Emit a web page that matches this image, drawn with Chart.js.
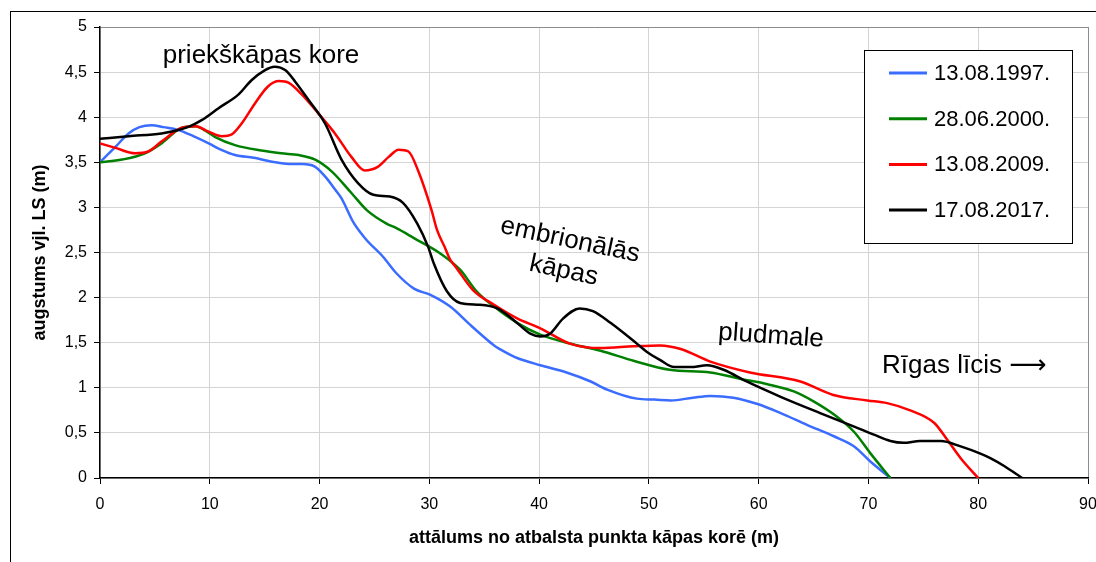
<!DOCTYPE html>
<html lang="lv">

<head>
  <meta charset="UTF-8">
  <title>Kāpu profils</title>
  <style>
    body {
      margin: 0;
      background-color: #fff;
    }

    canvas {
      display: block;
    }
  </style>
  <script src="https://cdn.jsdelivr.net/npm/chart.js"></script>
</head>

<body>
  <canvas id="profileChart" width="1096" height="562"></canvas>

  <script>
    // distance from the reference point (m) and height (m) for each survey
    const labels = ['13.08.1997.', '28.06.2000.', '13.08.2009.', '17.08.2017.'];
    const colors = ['#3a6cff', '#008000', '#ff0000', '#000000'];

    const dist1997 = [0, 1.4, 2.6, 3.6, 4.7, 5.8, 7.1, 8.5, 9.9, 11.0, 12.3, 14.0, 16.0, 17.5, 18.4, 19.6, 20.6, 21.4, 22.0, 23.1, 24.2, 25.8, 27.0, 28.6, 30.1, 31.9, 33.7, 35.0, 35.9, 37.0, 38.0, 40.1, 42.5, 44.7, 46.2, 48.9, 50.5, 52.0, 54.0, 55.6, 57.7, 59.9, 62.0, 64.4, 66.9, 68.7, 70.2, 72.0];
    const h1997 = [3.50, 3.67, 3.82, 3.89, 3.91, 3.89, 3.86, 3.79, 3.71, 3.64, 3.58, 3.55, 3.50, 3.48, 3.48, 3.45, 3.33, 3.20, 3.10, 2.83, 2.65, 2.45, 2.27, 2.10, 2.03, 1.90, 1.70, 1.56, 1.47, 1.39, 1.33, 1.25, 1.17, 1.07, 0.98, 0.88, 0.87, 0.86, 0.89, 0.91, 0.89, 0.82, 0.72, 0.59, 0.46, 0.35, 0.18, 0];

    const dist2000 = [0, 2.0, 4.1, 5.6, 7.4, 8.7, 9.6, 10.5, 12.3, 14.7, 16.5, 18.1, 19.6, 21.1, 22.9, 24.3, 26.1, 27.0, 28.6, 31.0, 32.8, 34.3, 35.9, 38.0, 40.1, 42.5, 45.6, 48.6, 51.9, 55.6, 58.3, 60.8, 63.2, 65.0, 66.9, 68.7, 70.2, 72.0];
    const h2000 = [3.50, 3.53, 3.60, 3.71, 3.88, 3.90, 3.85, 3.78, 3.69, 3.63, 3.60, 3.58, 3.53, 3.40, 3.16, 2.97, 2.82, 2.77, 2.66, 2.49, 2.31, 2.07, 1.90, 1.72, 1.59, 1.50, 1.41, 1.30, 1.20, 1.17, 1.10, 1.04, 0.96, 0.85, 0.70, 0.51, 0.27, 0];

    const dist2009 = [0, 1.4, 3.2, 4.4, 5.6, 7.4, 8.7, 9.9, 11.1, 12.0, 12.9, 14.1, 15.3, 16.3, 17.2, 18.4, 19.9, 21.4, 22.9, 24.1, 25.3, 26.3, 27.2, 28.1, 29.0, 30.2, 30.7, 31.4, 31.9, 32.4, 34.0, 35.9, 38.0, 40.1, 42.8, 45.6, 48.6, 51.0, 52.9, 55.6, 59.2, 63.8, 66.8, 69.9, 71.7, 73.8, 76.0, 77.2, 78.4, 80.0];
    const h2009 = [3.71, 3.66, 3.60, 3.62, 3.73, 3.88, 3.90, 3.84, 3.79, 3.81, 3.93, 4.15, 4.34, 4.40, 4.38, 4.25, 4.04, 3.82, 3.56, 3.41, 3.45, 3.56, 3.64, 3.62, 3.40, 2.97, 2.75, 2.56, 2.42, 2.34, 2.08, 1.92, 1.77, 1.66, 1.49, 1.44, 1.46, 1.47, 1.43, 1.29, 1.17, 1.07, 0.92, 0.86, 0.83, 0.75, 0.61, 0.42, 0.22, 0];

    const dist2017 = [0, 2.6, 5.6, 8.0, 9.3, 10.8, 12.6, 13.8, 15.0, 15.9, 16.9, 17.8, 19.0, 20.5, 22.0, 23.5, 24.9, 26.4, 27.6, 28.9, 29.9, 30.4, 31.6, 32.8, 34.6, 36.2, 37.7, 39.2, 40.1, 41.0, 42.2, 43.7, 44.9, 46.5, 48.9, 49.8, 51.0, 52.3, 53.8, 55.3, 56.8, 58.9, 62.0, 65.6, 68.7, 70.5, 72.0, 73.2, 74.7, 76.6, 78.4, 80.2, 81.1, 82.4, 84.0];
    const h2017 = [3.76, 3.79, 3.82, 3.89, 3.97, 4.10, 4.25, 4.41, 4.52, 4.56, 4.52, 4.39, 4.19, 3.93, 3.53, 3.27, 3.14, 3.12, 3.05, 2.82, 2.56, 2.38, 2.07, 1.94, 1.92, 1.88, 1.75, 1.60, 1.57, 1.60, 1.77, 1.88, 1.85, 1.72, 1.49, 1.40, 1.31, 1.23, 1.23, 1.25, 1.20, 1.07, 0.90, 0.72, 0.57, 0.48, 0.41, 0.39, 0.41, 0.41, 0.35, 0.27, 0.22, 0.13, 0];

    const xTicks = [0, 10, 20, 30, 40, 50, 60, 70, 80, 90];
    const yTicks = [0, 0.5, 1, 1.5, 2, 2.5, 3, 3.5, 4, 4.5, 5];

    const xTitle = 'attālums no atbalsta punkta kāpas korē (m)';
    const yTitle = 'augstums vjl. LS (m)';

    const FONT = "'Liberation Sans', Arial, sans-serif";

    function toPoints(xs, ys) {
      return xs.map((x, i) => ({ x: x, y: ys[i] }));
    }

    const series = [
      toPoints(dist1997, h1997),
      toPoints(dist2000, h2000),
      toPoints(dist2009, h2009),
      toPoints(dist2017, h2017)
    ];

    // frame, axis titles, notes and the legend box
    const extras = {
      id: 'extras',
      beforeDraw(chart) {
        const c = chart.ctx;
        c.save();
        c.fillStyle = '#fff';
        c.fillRect(0, 0, chart.width, chart.height);
        c.strokeStyle = '#000';
        c.lineWidth = 1;
        c.strokeRect(10.5, 11.5, 1200, 1000);
        c.restore();
      },
      afterDraw(chart) {
        const c = chart.ctx;
        const area = chart.chartArea;
        c.save();
        c.fillStyle = '#000';

        // axis titles
        c.font = 'bold 18px ' + FONT;
        c.textAlign = 'center';
        c.textBaseline = 'middle';
        c.fillText(xTitle, (area.left + area.right) / 2, 538);
        c.save();
        c.translate(40, (area.top + area.bottom) / 2);
        c.rotate(-Math.PI / 2);
        c.fillText(yTitle, 0, 0);
        c.restore();

        // notes inside the plot
        c.font = "26px 'Liberation Sans', 'DejaVu Sans', sans-serif";
        c.fillText('priekškāpas kore', 261, 56);
        c.save();
        c.translate(567, 255);
        c.rotate(12 * Math.PI / 180);
        c.fillText('embrionālās', 0, -15);
        c.fillText('kāpas', 0, 16);
        c.restore();
        c.save();
        c.translate(771, 336);
        c.rotate(4 * Math.PI / 180);
        c.fillText('pludmale', 0, 0);
        c.restore();
        c.textAlign = 'left';
        c.fillText('Rīgas līcis ⟶', 882, 366);

        // legend
        c.fillStyle = '#fff';
        c.fillRect(864, 50, 208, 193);
        c.strokeStyle = '#000';
        c.lineWidth = 1;
        c.strokeRect(864.5, 50.5, 208, 193);
        c.font = '22px ' + FONT;
        labels.forEach((lab, i) => {
          const y = 73 + i * 45.7;
          c.strokeStyle = colors[i];
          c.lineWidth = 3;
          c.beginPath();
          c.moveTo(889, y);
          c.lineTo(927, y);
          c.stroke();
          c.fillStyle = '#000';
          c.fillText(lab, 934, y + 1);
        });
        c.restore();
      }
    };

    const ctx = document.getElementById('profileChart').getContext('2d');
    const chart = new Chart(ctx, {
      type: 'line',
      data: {
        datasets: series.map((pts, i) => ({
          label: labels[i],
          data: pts,
          borderColor: colors[i],
          backgroundColor: colors[i],
          borderWidth: 2.5,
          pointRadius: 0,
          cubicInterpolationMode: 'monotone',
          fill: false,
          order: 4 - i
        }))
      },
      options: {
        responsive: false,
        animation: false,
        devicePixelRatio: 1,
        layout: {
          padding: { left: 0, top: 27, right: 8, bottom: 0 }
        },
        plugins: {
          legend: { display: false },
          tooltip: { enabled: false }
        },
        scales: {
          x: {
            type: 'linear',
            min: 0,
            max: 90,
            afterFit: s => { s.height = 84; s.paddingLeft = 0; s.paddingRight = 0; },
            afterBuildTicks: s => { s.ticks = xTicks.map(v => ({ value: v })); },
            grid: {
              color: t => (t.tick && t.tick.value === 90 ? '#8c8c8c' : '#d4d4d4'),
              tickColor: '#000',
              tickLength: 6,
              lineWidth: 1
            },
            border: { color: '#000', width: 1.5 },
            ticks: {
              color: '#000',
              padding: 11,
              maxRotation: 0,
              font: { family: FONT, size: 16 }
            }
          },
          y: {
            type: 'linear',
            min: 0,
            max: 5,
            afterFit: s => { s.width = 100; s.paddingTop = 0; s.paddingBottom = 0; },
            afterBuildTicks: s => { s.ticks = yTicks.map(v => ({ value: v })); },
            grid: {
              color: t => (t.tick && t.tick.value === 5 ? '#8c8c8c' : '#d4d4d4'),
              tickColor: '#000',
              tickLength: 6,
              lineWidth: 1
            },
            border: { color: '#000', width: 1.5 },
            ticks: {
              color: '#000',
              padding: 7,
              font: { family: FONT, size: 16 },
              callback: v => String(v).replace('.', ',')
            }
          }
        }
      },
      plugins: [extras]
    });
  </script>
</body>

</html>
